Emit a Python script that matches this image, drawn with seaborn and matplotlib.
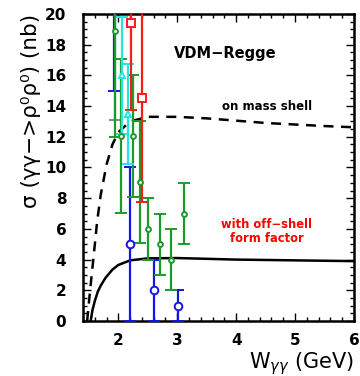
import numpy as np
import pandas as pd
import matplotlib
matplotlib.use("Agg")
import matplotlib.pyplot as plt
from matplotlib.ticker import MultipleLocator
import seaborn as sns

sns.set_theme(style="white")
plt.rcParams['font.family'] = ['DejaVu Sans']
plt.rcParams['text.color'] = 'black'
plt.rcParams['axes.labelcolor'] = 'black'
plt.rcParams['xtick.color'] = 'black'
plt.rcParams['ytick.color'] = 'black'

# ---- data ----
# theory curves
w_dash = [1.47, 1.52, 1.58, 1.64, 1.70, 1.80, 1.90, 2.00, 2.20, 2.50, 3.00, 3.50, 4.00, 4.50, 5.00, 5.50, 6.00]
s_dash = [0.0, 2.0, 4.2, 6.5, 8.2, 10.2, 11.5, 12.3, 13.0, 13.3, 13.3, 13.2, 13.05, 12.9, 12.8, 12.7, 12.62]
w_solid = [1.53, 1.56, 1.60, 1.65, 1.70, 1.78, 1.90, 2.00, 2.20, 2.50, 3.00, 3.50, 4.00, 5.00, 6.00]
s_solid = [0.0, 0.7, 1.3, 1.9, 2.3, 2.8, 3.35, 3.65, 3.95, 4.08, 4.1, 4.05, 4.0, 3.95, 3.9]

# data sets (W, sigma, error)
green_w = [1.95, 2.05, 2.25, 2.36, 2.51, 2.70, 2.90, 3.11]
green_s = [18.9, 12.05, 12.05, 9.05, 6.0, 5.0, 4.0, 7.0]
green_e = [6.9, 5.0, 4.0, 4.0, 2.0, 2.0, 2.0, 2.0]

blue_w = [1.92, 2.20, 2.60, 3.01]
blue_s = [22.0, 5.0, 2.0, 1.0]
blue_e = [7.0, 5.0, 2.0, 1.0]

cyan_w = [2.06, 2.16]
cyan_s = [16.0, 13.5]
cyan_e = [3.8, 3.25]

red_w = [2.22, 2.41]
red_s = [19.4, 14.55]
red_e = [5.65, 6.8]

grey_w = [1.94]
grey_s = [22.0]
grey_e = [8.9]

fig = plt.figure(figsize=(3.6, 3.76), dpi=100)
ax = fig.add_axes([0.2306, 0.1463, 0.7525, 0.8165])

sns.lineplot(x=w_dash, y=s_dash, ax=ax, color="black", lw=1.8, linestyle=(0, (4, 3)), sort=False)
sns.lineplot(x=w_solid, y=s_solid, ax=ax, color="black", lw=1.8, sort=False)

def series(w, s, e, color, marker, ms, ecolor=None):
    ax.errorbar(w, s, yerr=e, fmt=marker, color=color, ecolor=ecolor or color,
                mfc="white", mec=color, ms=ms, mew=1.4, elinewidth=1.6,
                capsize=4, capthick=1.6, zorder=3)

series(grey_w, grey_s, grey_e, "#ff00ff", "o", 4, ecolor="#888888")
series(blue_w, blue_s, blue_e, "#1414e6", "o", 5.5)
series(green_w, green_s, green_e, "#1c9b2c", "o", 3.5)
series(cyan_w, cyan_s, cyan_e, "#22e6e6", "^", 5)
series(red_w, red_s, red_e, "#ff1a1a", "s", 5.5)

ax.set_xlim(1.4, 6.0)
ax.set_ylim(0, 20)
ax.xaxis.set_major_locator(MultipleLocator(1))
ax.xaxis.set_minor_locator(MultipleLocator(0.2))
ax.yaxis.set_major_locator(MultipleLocator(2))
ax.yaxis.set_minor_locator(MultipleLocator(0.5))
ax.tick_params(which="both", direction="in", top=True, right=True, bottom=True, left=True,
               color="black", width=1.0)
ax.tick_params(which="major", length=6, labelsize=11)
ax.tick_params(axis="x", which="major", pad=9)
ax.tick_params(axis="y", which="major", pad=12)
ax.tick_params(which="minor", length=3)
for lab in ax.get_xticklabels() + ax.get_yticklabels():
    lab.set_fontweight("bold")
for sp in ax.spines.values():
    sp.set_color("black")
    sp.set_linewidth(1.8)

ax.set_xlabel(r"W$_{\gamma\gamma}$ (GeV)", fontsize=15, loc="right", labelpad=1)
ax.set_ylabel("σ (γγ−>ρ⁰ρ⁰) (nb)", fontsize=15.5, loc="top", labelpad=3)

ax.text(3.82, 17.4, "VDM−Regge", fontsize=10.5, fontweight="bold", ha="center", va="center")
ax.text(4.52, 14.0, "on mass shell", fontsize=8.5, fontweight="bold", ha="center", va="center")
ax.text(4.52, 5.8, "with off−shell\nform factor", fontsize=8.3, fontweight="bold", color="#ff0000",
        ha="center", va="center", linespacing=1.1)

fig.savefig("out.png", dpi=100)
